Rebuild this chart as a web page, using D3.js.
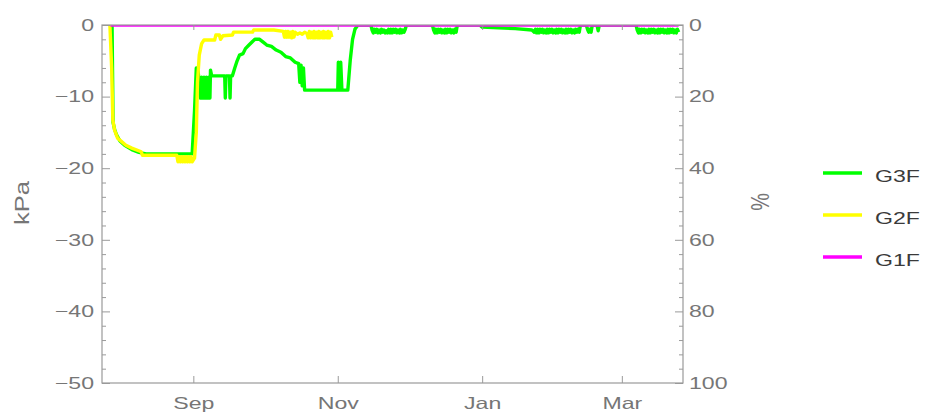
<!DOCTYPE html>
<html>
<head>
<meta charset="utf-8">
<script src="https://cdn.jsdelivr.net/npm/d3@7"></script>
<style>
  body { margin: 0; background: #fff; }
  svg { display: block; font-family: "Liberation Sans", Arial, sans-serif; }
</style>
</head>
<body>
<svg id="chart" width="925" height="417"></svg>
<script>
// ---- data -------------------------------------------------------------
const seriesNames = ["G3F", "G2F", "G1F"];

const timeDomain = ["2018-07-24T10", "2019-03-26T20"];
const monthTicks = ["2018-09-01T00", "2018-11-01T00", "2019-01-01T00", "2019-03-01T00"];
const kpaTicks = [0, -10, -20, -30, -40, -50];
const percentTicks = [0, 20, 40, 60, 80, 100];

// G3F suction (kPa)
const g3fTimes = [
  "2018-07-28T16","2018-07-29T02","2018-07-29T18","2018-07-30T12","2018-08-01T00","2018-08-03T00",
  "2018-08-06T00","2018-08-09T00","2018-08-12T00","2018-08-31T12","2018-09-01T12","2018-09-02T06",
  "2018-09-03T00","2018-09-03T12","2018-09-04T00","2018-09-04T12","2018-09-05T00","2018-09-05T12",
  "2018-09-06T00","2018-09-06T12","2018-09-07T00","2018-09-07T12","2018-09-08T00","2018-09-08T06",
  "2018-09-08T18","2018-09-14T06","2018-09-14T12","2018-09-14T18","2018-09-16T06","2018-09-16T12",
  "2018-09-16T18","2018-09-17T12","2018-09-18T12","2018-09-19T12","2018-09-20T12","2018-09-22T00",
  "2018-09-23T00","2018-09-24T12","2018-09-26T00","2018-09-27T00","2018-09-29T00","2018-09-30T12",
  "2018-10-02T00","2018-10-04T00","2018-10-06T00","2018-10-08T00","2018-10-10T00","2018-10-12T00",
  "2018-10-14T00","2018-10-15T12","2018-10-16T00","2018-10-16T12","2018-10-17T00","2018-10-17T12",
  "2018-10-18T00","2018-11-01T00","2018-11-01T06","2018-11-01T18","2018-11-02T06","2018-11-02T18",
  "2018-11-05T06","2018-11-06T06","2018-11-07T06","2018-11-08T06","2018-11-09T12","2018-11-15T00",
  "2018-11-15T12","2018-11-16T00","2018-11-16T12","2018-11-17T00","2018-11-17T12","2018-11-18T00",
  "2018-11-18T12","2018-11-19T00","2018-11-19T12","2018-11-20T00","2018-11-20T12","2018-11-21T00",
  "2018-11-21T12","2018-11-22T00","2018-11-22T12","2018-11-23T00","2018-11-23T12","2018-11-24T00",
  "2018-11-24T12","2018-11-25T00","2018-11-25T12","2018-11-26T00","2018-11-26T12","2018-11-27T00",
  "2018-11-27T12","2018-11-28T00","2018-11-28T12","2018-11-29T00","2018-11-29T12","2018-11-30T00",
  "2018-12-11T00","2018-12-11T12","2018-12-12T00","2018-12-12T12","2018-12-13T00","2018-12-13T12",
  "2018-12-14T00","2018-12-14T12","2018-12-15T00","2018-12-15T12","2018-12-16T00","2018-12-16T12",
  "2018-12-17T00","2018-12-17T12","2018-12-18T00","2018-12-18T12","2018-12-19T00","2018-12-19T12",
  "2018-12-20T00","2018-12-20T12","2018-12-21T00","2018-12-21T12","2018-12-31T00","2019-01-01T00",
  "2019-01-08T00","2019-01-15T00","2019-01-22T00","2019-01-23T00","2019-01-23T12","2019-01-24T00",
  "2019-01-24T12","2019-01-25T00","2019-01-25T12","2019-01-26T00","2019-01-26T12","2019-01-27T00",
  "2019-01-27T12","2019-01-28T00","2019-01-28T12","2019-01-29T00","2019-01-29T12","2019-01-30T00",
  "2019-01-30T12","2019-01-31T00","2019-01-31T12","2019-02-01T00","2019-02-01T12","2019-02-02T00",
  "2019-02-02T12","2019-02-03T00","2019-02-03T12","2019-02-04T00","2019-02-04T12","2019-02-05T00",
  "2019-02-05T12","2019-02-06T00","2019-02-06T12","2019-02-07T00","2019-02-07T12","2019-02-08T00",
  "2019-02-08T12","2019-02-09T00","2019-02-09T12","2019-02-10T00","2019-02-10T12","2019-02-11T00",
  "2019-02-11T12","2019-02-14T00","2019-02-14T12","2019-02-15T00","2019-02-15T12","2019-02-16T00",
  "2019-02-16T12","2019-02-18T12","2019-02-19T00","2019-02-19T12","2019-03-07T00","2019-03-07T12",
  "2019-03-08T00","2019-03-08T12","2019-03-09T00","2019-03-09T12","2019-03-10T00","2019-03-10T12",
  "2019-03-11T00","2019-03-11T12","2019-03-12T00","2019-03-12T12","2019-03-13T00","2019-03-13T12",
  "2019-03-14T00","2019-03-14T12","2019-03-15T00","2019-03-15T12","2019-03-16T00","2019-03-16T12",
  "2019-03-17T00","2019-03-17T12","2019-03-18T00","2019-03-18T12","2019-03-19T00","2019-03-19T12",
  "2019-03-20T00","2019-03-20T12","2019-03-21T00","2019-03-21T12","2019-03-22T00","2019-03-22T12",
  "2019-03-23T00","2019-03-23T12","2019-03-24T00","2019-03-24T12","2019-03-25T00"
];
const g3fKPa = [
  0, -13.6, -14.6, -15.3, -16.2, -16.8,
  -17.4, -17.8, -18.0, -18.0, -12.0, -6.0,
  -6.5, -8.0, -10.2, -7.3, -10.2, -7.3,
  -10.2, -7.3, -10.2, -7.3, -10.2, -6.3,
  -7.1, -7.1, -10.2, -7.1, -7.1, -10.2,
  -7.1, -7.1, -6.0, -5.0, -4.2, -4.0,
  -3.3, -2.8, -2.3, -2.0, -2.0, -2.4,
  -2.8, -3.0, -3.5, -3.8, -4.4, -4.6,
  -5.2, -5.4, -8.0, -5.6, -8.5, -6.0,
  -9.1, -9.1, -5.2, -9.1, -5.2, -9.1,
  -9.1, -5.0, -2.0, -0.6, 0, 0,
  -0.7, -1.1, -0.6, -1.0, -0.6, -1.1,
  -0.7, -1.1, -0.6, -1.0, -0.7, -1.1,
  -0.8, -1.1, -0.6, -1.1, -0.6, -1.1,
  -0.6, -1.0, -0.6, -1.1, -0.7, -1.1,
  -0.6, -1.1, -0.7, -1.0, -0.6, 0,
  0, -0.7, -1.1, -0.6, -1.1, -0.6,
  -1.0, -0.6, -1.1, -0.7, -1.1, -0.6,
  -1.1, -0.6, -1.0, -0.6, -1.1, -0.7,
  -1.1, -0.6, -1.0, 0, 0, -0.3,
  -0.4, -0.5, -0.7, -1.0, -0.6, -1.1,
  -0.6, -1.1, -0.6, -1.0, -0.6, -1.1,
  -0.7, -1.1, -0.6, -1.1, -0.6, -1.0,
  -0.6, -1.1, -0.7, -1.1, -0.6, -1.1,
  -0.6, -1.0, -0.6, -1.1, -0.7, -1.1,
  -0.6, -1.1, -0.6, -1.0, -0.6, -1.1,
  -0.7, -1.1, -0.6, -1.0, -0.6, -1.0,
  0, 0, -0.6, -1.0, -0.6, -1.0,
  0, 0, -0.8, 0, 0, -0.7,
  -1.1, -0.6, -1.1, -0.6, -1.0, -0.6,
  -1.1, -0.7, -1.1, -0.6, -1.1, -0.6,
  -1.0, -0.6, -1.1, -0.7, -1.1, -0.6,
  -1.1, -0.6, -1.0, -0.6, -1.1, -0.7,
  -1.1, -0.6, -1.1, -0.6, -1.0, -0.6,
  -1.1, -0.7, -1.1, -0.6, -1.0
];

// G2F suction (kPa)
const g2fTimes = [
  "2018-07-27T18","2018-07-28T12","2018-07-29T00","2018-07-29T18","2018-07-31T00","2018-08-03T12",
  "2018-08-06T00","2018-08-10T00","2018-08-10T12","2018-08-25T00","2018-08-25T12","2018-08-26T00",
  "2018-08-26T12","2018-08-27T00","2018-08-27T12","2018-08-28T00","2018-08-28T12","2018-08-29T00",
  "2018-08-29T12","2018-08-30T00","2018-08-30T12","2018-08-31T00","2018-08-31T12","2018-09-01T12",
  "2018-09-02T06","2018-09-02T18","2018-09-03T12","2018-09-04T12","2018-09-05T12","2018-09-10T00",
  "2018-09-10T12","2018-09-12T00","2018-09-12T12","2018-09-13T12","2018-09-17T12","2018-09-18T00",
  "2018-09-26T00","2018-09-26T12","2018-10-05T00","2018-10-09T00","2018-10-09T12","2018-10-10T00",
  "2018-10-10T12","2018-10-11T00","2018-10-11T12","2018-10-12T00","2018-10-12T12","2018-10-13T00",
  "2018-10-13T12","2018-10-14T00","2018-10-15T00","2018-10-16T00","2018-10-17T00","2018-10-18T00",
  "2018-10-19T00","2018-10-19T12","2018-10-20T00","2018-10-20T12","2018-10-21T00","2018-10-21T12",
  "2018-10-22T00","2018-10-22T12","2018-10-23T00","2018-10-23T12","2018-10-24T00","2018-10-24T12",
  "2018-10-25T00","2018-10-25T12","2018-10-26T00","2018-10-26T12","2018-10-27T00","2018-10-27T12",
  "2018-10-28T00","2018-10-28T12","2018-10-29T00","2018-10-29T12"
];
const g2fKPa = [
  0, -6.0, -13.3, -14.7, -15.8, -16.8,
  -17.2, -17.7, -18.2, -18.2, -19.1, -18.4,
  -19.1, -18.4, -19.1, -18.4, -19.1, -18.4,
  -19.1, -18.4, -19.1, -18.4, -19.1, -18.6,
  -15.0, -8.0, -4.2, -2.6, -2.1, -2.1,
  -1.4, -1.4, -2.0, -1.5, -1.4, -1.0,
  -1.0, -0.7, -0.7, -0.9, -1.7, -0.9,
  -1.7, -0.9, -1.7, -1.0, -1.8, -0.9,
  -1.7, -1.0, -1.3, -1.1, -1.3, -1.0,
  -1.2, -1.8, -0.9, -1.8, -1.0, -1.8,
  -0.9, -1.8, -1.0, -1.8, -0.9, -1.8,
  -1.0, -1.8, -0.9, -1.8, -1.0, -1.8,
  -0.9, -1.8, -1.0, -1.7
];

// G1F suction (kPa)
const g1fTimes = ["2018-07-28T00", "2019-03-25T00"];
const g1fKPa = [0, 0];

// ---- layout -----------------------------------------------------------
const L = 102, R = 683, T = 25, B = 383;
const frameColor = "#9a9a9a";
const labelColor = "#767676";
const stretchX = 1.4;

const parseTime = d3.timeParse("%Y-%m-%dT%H");
const svg = d3.select("#chart");

const x = d3.scaleTime().domain(timeDomain.map(parseTime)).range([L, R]);
const y = d3.scaleLinear().domain([-50, 0]).range([B, T]);
const yPct = d3.scaleLinear().domain([0, 100]).range([T, B]);

const series = [
  { name: "G3F", times: g3fTimes, values: g3fKPa, color: "#00ff00" },
  { name: "G2F", times: g2fTimes, values: g2fKPa, color: "#ffff00" },
  { name: "G1F", times: g1fTimes, values: g1fKPa, color: "#ff00ff" }
];

// clip the curves to the plot range
svg.append("defs").append("clipPath").attr("id", "plotClip")
  .append("rect").attr("x", L).attr("y", T).attr("width", R - L).attr("height", B - T);

const line = d3.line().x(d => x(d.t)).y(d => y(d.v));

const plot = svg.append("g").attr("clip-path", "url(#plotClip)");
series.forEach(s => {
  const pts = s.times.map((t, i) => ({ t: parseTime(t), v: s.values[i] }));
  plot.append("path")
    .datum(pts)
    .attr("fill", "none")
    .attr("stroke", s.color)
    .attr("stroke-width", 3.4)
    .attr("stroke-linejoin", "round")
    .attr("d", line);
});

// ---- frame and axes ---------------------------------------------------
function styleAxis(g) {
  g.select(".domain").remove();
  g.selectAll(".tick line").attr("stroke", frameColor);
  g.selectAll(".tick text")
    .attr("fill", labelColor)
    .style("font-size", "16.5px")
    .style("font-family", "\"Liberation Sans\", Arial, sans-serif");
}

const fmtNum = d3.format("d");

// left: kPa
svg.append("g").attr("transform", `translate(${L},0)`)
  .call(d3.axisLeft(y).tickValues(kpaTicks).tickSize(-8).tickPadding(8).tickFormat(fmtNum))
  .call(styleAxis);
svg.append("g").attr("transform", `translate(${L},0)`)
  .call(d3.axisLeft(y).tickValues(d3.range(-48, 0, 2).filter(v => v % 10 !== 0)).tickSize(-4).tickFormat(""))
  .call(styleAxis);

// right: percent, 0 at the top
svg.append("g").attr("transform", `translate(${R},0)`)
  .call(d3.axisRight(yPct).tickValues(percentTicks).tickSize(-8).tickPadding(6).tickFormat(fmtNum))
  .call(styleAxis);
svg.append("g").attr("transform", `translate(${R},0)`)
  .call(d3.axisRight(yPct).tickValues(d3.range(4, 100, 4).filter(v => v % 20 !== 0)).tickSize(-4).tickFormat(""))
  .call(styleAxis);

// bottom and top: months
const months = monthTicks.map(parseTime);
svg.append("g").attr("transform", `translate(0,${B})`)
  .call(d3.axisBottom(x).tickValues(months).tickSize(-7).tickPadding(14).tickFormat(d3.timeFormat("%b")))
  .call(styleAxis);
svg.append("g").attr("transform", `translate(0,${T})`)
  .call(d3.axisTop(x).tickValues(months).tickSize(-5).tickFormat(""))
  .call(styleAxis);

svg.append("rect")
  .attr("x", L).attr("y", T).attr("width", R - L).attr("height", B - T)
  .attr("fill", "none").attr("stroke", frameColor).attr("stroke-width", 1.2);

// axis titles
svg.append("text")
  .attr("transform", "translate(29,203) rotate(-90)")
  .attr("text-anchor", "middle")
  .attr("fill", labelColor)
  .style("font-size", "21px")
  .attr("class", "wide")
  .text("kPa");

svg.append("text")
  .attr("transform", "translate(751,202) scale(1.3,1) rotate(90)")
  .attr("text-anchor", "middle")
  .attr("fill", labelColor)
  .style("font-size", "20px")
  .text("%");

// ---- legend -----------------------------------------------------------
const legend = svg.append("g").attr("transform", "translate(823,173)");
seriesNames.forEach((name, i) => {
  const s = series.find(d => d.name === name);
  const row = legend.append("g").attr("transform", `translate(0,${i * 42})`);
  row.append("line").attr("x1", 0).attr("x2", 39).attr("y1", 0).attr("y2", 0)
    .attr("stroke", s.color).attr("stroke-width", 3.4);
  row.append("text").attr("x", 52).attr("y", 9)
    .attr("fill", "#3a3a3a")
    .style("font-size", "16.5px")
    .attr("class", "wide")
    .text(name);
});

// widen the glyphs of the tick labels, titles and legend entries
svg.selectAll(".tick text, text.wide").each(function () {
  const len = this.getComputedTextLength();
  const k = this.textContent === "kPa" ? 1.22 : stretchX;
  d3.select(this).attr("textLength", len * k).attr("lengthAdjust", "spacingAndGlyphs");
});
</script>
</body>
</html>
